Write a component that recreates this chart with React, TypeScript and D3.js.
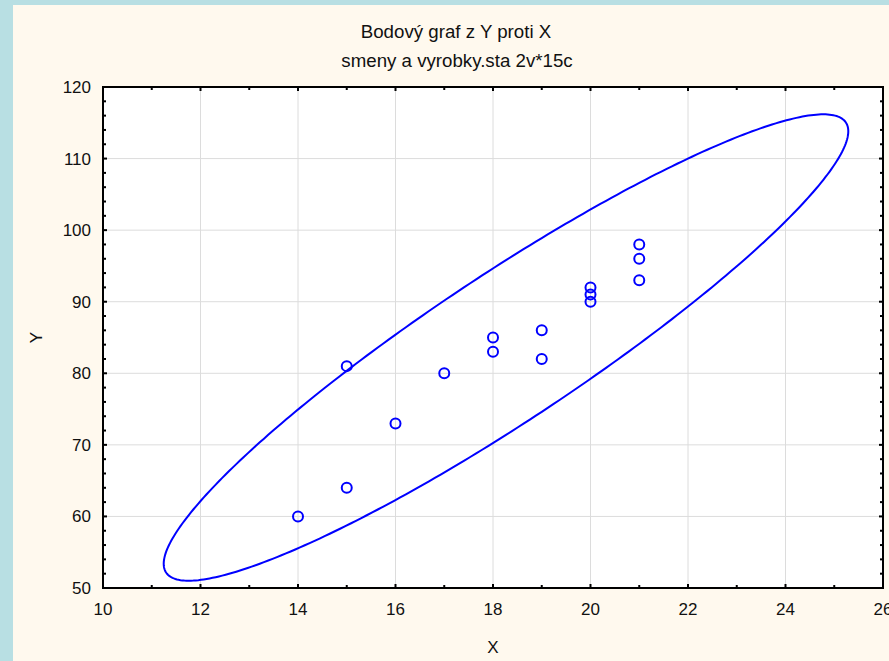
import React from "react";
import * as d3 from "d3";

const xValues = [14, 15, 15, 16, 17, 18, 18, 19, 19, 20, 20, 20, 21, 21, 21];
const yValues = [60, 64, 81, 73, 80, 83, 85, 82, 86, 90, 91, 92, 93, 96, 98];
const xTicks = [10, 12, 14, 16, 18, 20, 22, 24, 26];
const yTicks = [50, 60, 70, 80, 90, 100, 110, 120];
const xMinor = d3.range(10, 26.01, 1);
const yMinor = d3.range(50, 120.01, 2);
const ellipseK = 2.957; // 95% prediction ellipse scale
const titleLines = ["Bodový graf z Y proti X", "smeny a vyrobky.sta 2v*15c"];

const W = 889, H = 661;
const L = 103, R = 883, T = 87, B = 588;
const FONT = "'Liberation Sans', Arial, sans-serif";

export default function App() {
  const x = d3.scaleLinear().domain([10, 26]).range([L, R]);
  const y = d3.scaleLinear().domain([50, 120]).range([B, T]);

  const n = xValues.length;
  const mx = d3.mean(xValues)!;
  const my = d3.mean(yValues)!;
  const vx = d3.variance(xValues)!;
  const vy = d3.variance(yValues)!;
  const cov = d3.sum(xValues.map((v, i) => (v - mx) * (yValues[i] - my))) / (n - 1);
  const l11 = Math.sqrt(vx);
  const l21 = cov / l11;
  const l22 = Math.sqrt(vy - l21 * l21);
  const pts: [number, number][] = d3.range(0, 361).map((deg) => {
    const t = (deg * Math.PI) / 180;
    const c = Math.cos(t), s = Math.sin(t);
    return [x(mx + ellipseK * l11 * c), y(my + ellipseK * (l21 * c + l22 * s))];
  });
  const line = d3.line().curve(d3.curveLinearClosed);

  return (
    <svg width={W} height={H} style={{ position: "absolute", left: 0, top: 0, display: "block" }}>
      <rect x={0} y={0} width={W} height={H} fill="#B8DFE3" />
      <rect x={13} y={5} width={W - 13} height={H - 5} fill="#FFF9EE" />
      <text x={456} y={38} textAnchor="middle" fontFamily={FONT} fontSize={18.7} fill="#111">{titleLines[0]}</text>
      <text x={457} y={67} textAnchor="middle" fontFamily={FONT} fontSize={18.7} fill="#111">{titleLines[1]}</text>
      <rect x={L} y={T} width={R - L} height={B - T} fill="#FFFFFF" />
      <defs>
        <clipPath id="plotclip"><rect x={L} y={T} width={R - L} height={B - T} /></clipPath>
      </defs>
      {xTicks.slice(1, -1).map((t) => (
        <line key={"gx" + t} x1={x(t)} x2={x(t)} y1={T} y2={B} stroke="#DCDCDC" strokeWidth={1} />
      ))}
      {yTicks.slice(1, -1).map((t) => (
        <line key={"gy" + t} x1={L} x2={R} y1={y(t)} y2={y(t)} stroke="#DCDCDC" strokeWidth={1} />
      ))}
      <g clipPath="url(#plotclip)">
        <path d={line(pts) || ""} fill="none" stroke="#0000FF" strokeWidth={2} />
      </g>
      {xValues.map((v, i) => (
        <circle key={"p" + i} cx={x(v)} cy={y(yValues[i])} r={5} fill="none" stroke="#0000FF" strokeWidth={2} />
      ))}
      {xMinor.map((t) => {
        const major = t % 2 === 0;
        const len = major ? 4 : 3;
        return (
          <g key={"tx" + t}>
            <line x1={x(t)} x2={x(t)} y1={B} y2={B - len} stroke="#000" strokeWidth={2} />
            <line x1={x(t)} x2={x(t)} y1={T} y2={T + len} stroke="#000" strokeWidth={2} />
          </g>
        );
      })}
      {yMinor.map((t) => {
        const major = t % 10 === 0;
        const len = major ? 4 : 3;
        return (
          <g key={"ty" + t}>
            <line x1={L} x2={L + len} y1={y(t)} y2={y(t)} stroke="#000" strokeWidth={2} />
            <line x1={R} x2={R - len} y1={y(t)} y2={y(t)} stroke="#000" strokeWidth={2} />
          </g>
        );
      })}
      <rect x={L} y={T} width={R - L} height={B - T} fill="none" stroke="#000" strokeWidth={2} />
      {xTicks.map((t) => (
        <text key={"lx" + t} x={x(t)} y={615} textAnchor="middle" fontFamily={FONT} fontSize={17} fill="#111">{t}</text>
      ))}
      {yTicks.map((t) => (
        <text key={"ly" + t} x={91} y={y(t) + 6} textAnchor="end" fontFamily={FONT} fontSize={17} fill="#111">{t}</text>
      ))}
      <text x={493} y={653} textAnchor="middle" fontFamily={FONT} fontSize={17} fill="#111">X</text>
      <text transform={`translate(42,${(T + B) / 2}) rotate(-90)`} textAnchor="middle" fontFamily={FONT} fontSize={17} fill="#111">Y</text>
    </svg>
  );
}
